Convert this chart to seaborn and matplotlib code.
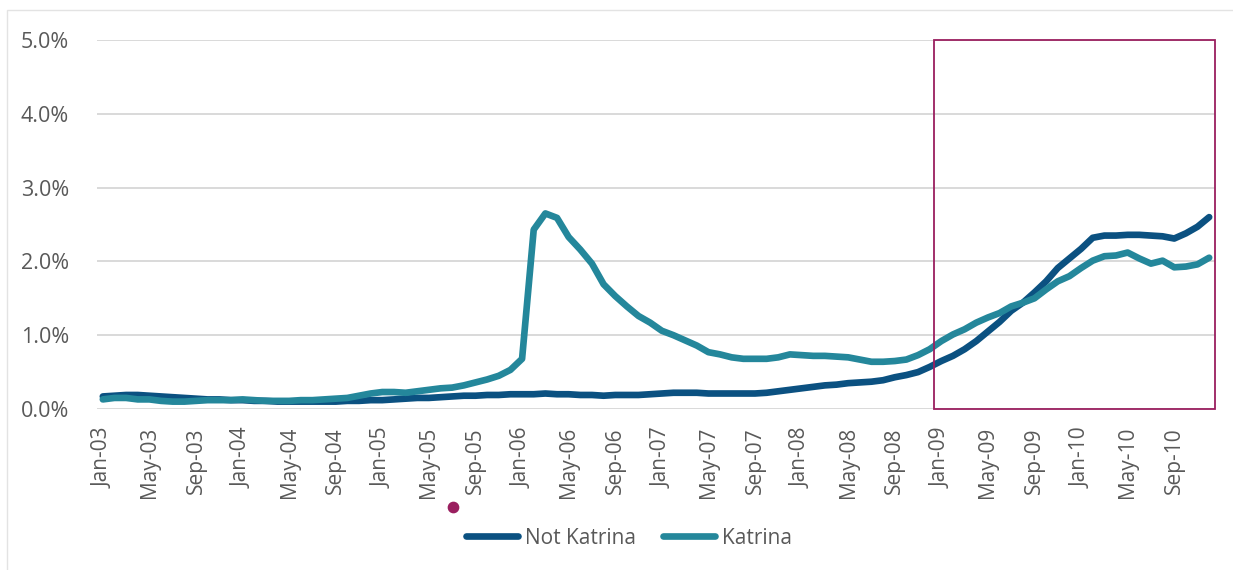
import numpy as np
import pandas as pd
import matplotlib
matplotlib.use("Agg")
import matplotlib.pyplot as plt
import matplotlib.transforms as mtransforms
from matplotlib.patches import Rectangle
from matplotlib.lines import Line2D
import seaborn as sns

# ---------------- data ----------------
months = pd.date_range("2003-01-01", "2010-12-01", freq="MS")
month_labels = [d.strftime("%b-%y") for d in months]

not_katrina = [
    0.17, 0.18, 0.19, 0.19, 0.18, 0.17, 0.16, 0.15, 0.14, 0.13, 0.13, 0.12,
    0.12, 0.11, 0.11, 0.10, 0.10, 0.10, 0.10, 0.10, 0.10, 0.11, 0.11, 0.12,
    0.12, 0.13, 0.14, 0.15, 0.15, 0.16, 0.17, 0.18, 0.18, 0.19, 0.19, 0.20,
    0.20, 0.20, 0.21, 0.20, 0.20, 0.19, 0.19, 0.18, 0.19, 0.19, 0.19, 0.20,
    0.21, 0.22, 0.22, 0.22, 0.21, 0.21, 0.21, 0.21, 0.21, 0.22, 0.24, 0.26,
    0.28, 0.30, 0.32, 0.33, 0.35, 0.36, 0.37, 0.39, 0.43, 0.46, 0.50, 0.57,
    0.65, 0.72, 0.81, 0.92, 1.05, 1.18, 1.33, 1.44, 1.58, 1.73, 1.91, 2.04,
    2.17, 2.32, 2.35, 2.35, 2.36, 2.36, 2.35, 2.34, 2.31, 2.38, 2.47, 2.60,
]
katrina = [
    0.13, 0.15, 0.15, 0.13, 0.13, 0.11, 0.10, 0.10, 0.11, 0.12, 0.12, 0.12,
    0.13, 0.12, 0.11, 0.11, 0.11, 0.12, 0.12, 0.13, 0.14, 0.15, 0.18, 0.21,
    0.23, 0.23, 0.22, 0.24, 0.26, 0.28, 0.29, 0.32, 0.36, 0.40, 0.45, 0.53,
    0.68, 2.43, 2.65, 2.59, 2.33, 2.16, 1.97, 1.69, 1.53, 1.39, 1.26, 1.17,
    1.06, 1.00, 0.93, 0.86, 0.77, 0.74, 0.70, 0.68, 0.68, 0.68, 0.70, 0.74,
    0.73, 0.72, 0.72, 0.71, 0.70, 0.67, 0.64, 0.64, 0.65, 0.67, 0.73, 0.81,
    0.92, 1.01, 1.08, 1.17, 1.24, 1.30, 1.39, 1.44, 1.50, 1.62, 1.73, 1.80,
    1.91, 2.01, 2.07, 2.08, 2.12, 2.04, 1.97, 2.01, 1.92, 1.93, 1.96, 2.05,
]
series_names = ["Not Katrina", "Katrina"]
y_ticks = [0, 1, 2, 3, 4, 5]
highlight_start = 71.35   # month index where the highlighted period begins
katrina_marker = 30.05    # month index of the marker dot under the axis

# ---------------- style ----------------
sns.set_theme(style="white")
plt.rcParams["font.family"] = ["Open Sans", "DejaVu Sans"]

DARK = "#0b5181"
TEAL = "#24879b"
MAROON = "#9a1f5f"
GRID = "#d9d9d9"
TXT = "#595959"

df = pd.DataFrame({
    "idx": np.tile(np.arange(len(months)), 2),
    "value": not_katrina + katrina,
    "series": np.repeat(series_names, len(months)),
})

fig = plt.figure(figsize=(12.33, 5.70), dpi=100)
ax = fig.add_axes([97 / 1233, 1 - 409 / 570, (1215 - 97) / 1233, (409 - 40) / 570])

sns.lineplot(data=df, x="idx", y="value", hue="series", hue_order=series_names,
             palette=[DARK, TEAL], linewidth=4.8, ax=ax, legend=False)
for ln in ax.lines:
    ln.set_solid_capstyle("round")
    ln.set_solid_joinstyle("round")

ax.set_xlim(-0.5, len(months) - 0.5)
ax.set_ylim(0, 5)
ax.set_yticks(y_ticks)
ax.set_yticklabels([f"{v:.1f}%" for v in y_ticks], fontsize=15.5, color=TXT)
ax.yaxis.grid(True, color=GRID, linewidth=1.4)
ax.xaxis.grid(False)
ax.set_axisbelow(True)
ax.set_xticks(np.arange(0, len(months), 4))
ax.set_xticklabels(month_labels[::4], rotation=90, fontsize=15, color=TXT)
ax.tick_params(axis="y", length=0, pad=20)
ax.tick_params(axis="x", length=0, pad=13)
for s in ax.spines.values():
    s.set_visible(False)
ax.set_xlabel("")
ax.set_ylabel("")

# highlighted period
ax.add_patch(Rectangle((highlight_start, 0), len(months) - 0.5 - highlight_start, 5,
                       fill=False, edgecolor=MAROON, linewidth=1.3, zorder=5,
                       clip_on=False))

# marker dot below axis
trans = mtransforms.blended_transform_factory(ax.transData, ax.transAxes)
ax.scatter([katrina_marker], [(409 - 507) / 369], s=55, color=MAROON,
           transform=trans, clip_on=False, zorder=6)

# legend
handles = [Line2D([0], [0], color=c, linewidth=4.8, solid_capstyle="round")
           for c in (DARK, TEAL)]
fig.legend(handles, series_names, loc="center", bbox_to_anchor=(629 / 1233, 1 - 538 / 570),
           ncol=2, frameon=False, fontsize=15, handlelength=2.5,
           handletextpad=0.35, columnspacing=1.3, labelcolor=TXT)

# chart-area border (left and top visible)
fig.add_artist(Rectangle((7 / 1233, -0.05), 1.2, 1 - 10 / 570 + 0.05,
                         transform=fig.transFigure, fill=False,
                         edgecolor="#e3e3e3", linewidth=1.0))

fig.savefig("out.png", dpi=100, facecolor="white")
